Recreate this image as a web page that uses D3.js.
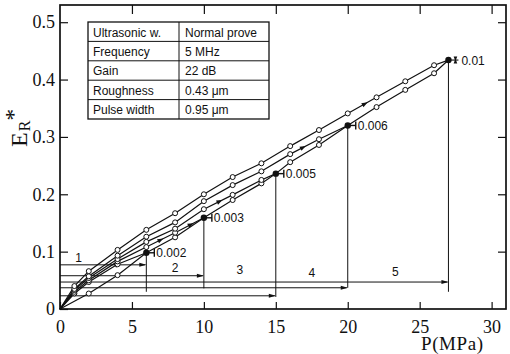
<!DOCTYPE html>
<html>
<head>
<meta charset="utf-8">
<script src="https://cdn.jsdelivr.net/npm/d3@7"></script>
<style>
  html, body { margin: 0; padding: 0; background: #fff; }
  svg { display: block; }
</style>
</head>
<body>
<svg id="chart" width="510" height="354"></svg>
<script>
// Virgin loading path: each cycle pushes past the previous maximum pressure
const envelopeP = [0, 2, 4, 6, 8, 10, 12, 14, 15, 16, 18, 20, 22, 24, 26, 27];
const envelopeE = [0, 0.027, 0.059, 0.098, 0.125, 0.159, 0.190, 0.219, 0.236, 0.256, 0.286, 0.320, 0.352, 0.382, 0.411, 0.434];

// Unloading paths from each peak pressure back to zero (reloading retraces them)
const unload1P = [6, 4, 2, 1, 0];
const unload1E = [0.098, 0.078, 0.047, 0.027, 0];
const unload2P = [10, 8, 6, 4, 2, 1, 0];
const unload2E = [0.159, 0.133, 0.108, 0.083, 0.050, 0.030, 0];
const unload3P = [15, 14, 12, 10, 8, 6, 4, 2, 1, 0];
const unload3E = [0.236, 0.225, 0.199, 0.174, 0.140, 0.117, 0.087, 0.054, 0.033, 0];
const unload4P = [20, 18, 16, 14, 12, 10, 8, 6, 4, 2, 1, 0];
const unload4E = [0.320, 0.296, 0.270, 0.240, 0.216, 0.188, 0.151, 0.126, 0.093, 0.057, 0.035, 0];
const unload5P = [27, 26, 24, 22, 20, 18, 16, 14, 12, 10, 8, 6, 4, 2, 1, 0];
const unload5E = [0.434, 0.425, 0.397, 0.369, 0.341, 0.312, 0.284, 0.254, 0.230, 0.200, 0.167, 0.138, 0.103, 0.066, 0.040, 0];

// Peak of each cycle and its residual value
const peakP = [6, 10, 15, 20, 27];
const peakE = [0.098, 0.159, 0.236, 0.320, 0.434];
const peakLabels = ["0.002", "0.003", "0.005", "0.006", "0.01"];

// Cycle arrows along the bottom (pressure range of each cycle)
const cycleNames = ["1", "2", "3", "4", "5"];
const cycleArrowE = [0.077, 0.058, 0.023, 0.037, 0.047];
const leaderEndE = [0.030, 0.036, 0.021, 0.037, 0.030];
const cycleLabelP = [1.3, 8.0, 12.5, 17.5, 23.3];
const cycleLabelE = [0.082, 0.064, 0.061, 0.056, 0.057];

// Direction arrows placed on curves: [curve, pressure]
const curveArrows = [["u5", 21.2], ["u4", 16.9], ["u3", 11.1], ["u2", 9.1], ["u2", 7.0], ["u1", 4.0]];

const xTicks = [0, 5, 10, 15, 20, 25, 30];
const yTicks = [0, 0.1, 0.2, 0.3, 0.4, 0.5];

const tableRows = [
  ["Ultrasonic w.", "Normal prove"],
  ["Frequency", "5 MHz"],
  ["Gain", "22 dB"],
  ["Roughness", "0.43 \u03bcm"],
  ["Pulse width", "0.95 \u03bcm"]
];

// ---------------------------------------------------------------
const svg = d3.select("#chart");
const ink = "#111";
const plotL = 60, plotR = 506, plotT = 5, plotB = 309;

const x = d3.scaleLinear().domain([0, 31]).range([plotL, plotR]);
const y = d3.scaleLinear().domain([0, 0.53]).range([plotB, plotT]);

const zip = (ps, es) => ps.map((p, i) => [p, es[i]]);
const curves = {
  env: zip(envelopeP, envelopeE),
  u1: zip(unload1P, unload1E),
  u2: zip(unload2P, unload2E),
  u3: zip(unload3P, unload3E),
  u4: zip(unload4P, unload4E),
  u5: zip(unload5P, unload5E)
};

const serif = "'Liberation Serif', 'Times New Roman', serif";
const sansW = "'Liberation Sans', Arial, sans-serif";

// Axes: ticks point inward on all four sides
const gx = svg.append("g").attr("transform", `translate(0,${plotB})`)
  .call(d3.axisBottom(x).tickValues(xTicks).tickSize(-7).tickSizeOuter(0).tickPadding(11));
const gy = svg.append("g").attr("transform", `translate(${plotL},0)`)
  .call(d3.axisLeft(y).tickValues(yTicks).tickSize(-8).tickSizeOuter(0).tickPadding(5)
    .tickFormat(d => d === 0 ? "0" : d3.format(".1f")(d)));
const gt = svg.append("g").attr("transform", `translate(0,${plotT})`)
  .call(d3.axisTop(x).tickValues(xTicks.slice(1)).tickSize(-9).tickSizeOuter(0).tickFormat(""));
const gr = svg.append("g").attr("transform", `translate(${plotR},0)`)
  .call(d3.axisRight(y).tickValues(yTicks.slice(1)).tickSize(-8).tickSizeOuter(0).tickFormat(""));

[gx, gy, gt, gr].forEach(g => {
  g.select(".domain").remove();
  g.selectAll(".tick line").attr("stroke", ink).attr("stroke-width", 1.2);
  g.selectAll(".tick text").attr("fill", ink).attr("font-family", serif).attr("font-size", 18);
});

svg.append("rect")
  .attr("x", plotL).attr("y", plotT).attr("width", plotR - plotL).attr("height", plotB - plotT)
  .attr("fill", "none").attr("stroke", ink).attr("stroke-width", 1.7);

// Axis titles
svg.append("text")
  .attr("x", 421).attr("y", 350)
  .attr("font-family", serif).attr("font-size", 19).attr("fill", ink)
  .attr("letter-spacing", 0.6)
  .text("P(MPa)");

const yl = svg.append("text")
  .attr("transform", "translate(27,147) rotate(-90)")
  .attr("font-family", serif).attr("fill", ink);
yl.append("tspan").attr("font-size", 24).text("E");
yl.append("tspan").attr("font-size", 16).attr("dx", 1).attr("dy", 3).text("R");
yl.append("tspan").attr("font-size", 24).attr("dx", 0).attr("dy", -9).text("*");

// Parameter table
const tx0 = 88, tx1 = 179, tx2 = 269, ty0 = 22, rowH = 19.4;
const table = svg.append("g").attr("stroke", ink).attr("stroke-width", 1);
table.append("rect").attr("x", tx0).attr("y", ty0)
  .attr("width", tx2 - tx0).attr("height", rowH * tableRows.length)
  .attr("fill", "#fff").attr("stroke-width", 1.3);
table.append("line").attr("x1", tx1).attr("x2", tx1).attr("y1", ty0).attr("y2", ty0 + rowH * tableRows.length);
table.selectAll("line.row").data(tableRows.slice(1)).join("line")
  .attr("class", "row")
  .attr("x1", tx0).attr("x2", tx2)
  .attr("y1", (d, i) => ty0 + rowH * (i + 1)).attr("y2", (d, i) => ty0 + rowH * (i + 1));
const cells = svg.append("g").attr("font-family", sansW).attr("font-size", 12).attr("fill", ink);
tableRows.forEach((r, i) => {
  cells.append("text").attr("x", tx0 + 5).attr("y", ty0 + rowH * i + 14.5).text(r[0]);
  cells.append("text").attr("x", tx1 + 6).attr("y", ty0 + rowH * i + 14.5).text(r[1]);
});

// Cycle range arrows and leaders from each peak
const arrowHead = (g, px, py, ang, len = 6, half = 2.3) => {
  const c = Math.cos(ang), s = Math.sin(ang);
  const bx = px - len * c, by = py - len * s;
  g.append("path")
    .attr("d", `M${px},${py}L${bx - half * s},${by + half * c}L${bx + half * s},${by - half * c}Z`)
    .attr("fill", ink);
};

const cyc = svg.append("g");
peakP.forEach((p, i) => {
  cyc.append("line")
    .attr("x1", x(0)).attr("x2", x(p) - 1)
    .attr("y1", y(cycleArrowE[i])).attr("y2", y(cycleArrowE[i]))
    .attr("stroke", ink).attr("stroke-width", 1);
  arrowHead(cyc, x(p), y(cycleArrowE[i]), 0, 7, 2);
  cyc.append("line")
    .attr("x1", x(p)).attr("x2", x(p))
    .attr("y1", y(peakE[i])).attr("y2", y(leaderEndE[i]))
    .attr("stroke", ink).attr("stroke-width", 1);
  cyc.append("text")
    .attr("x", x(cycleLabelP[i])).attr("y", y(cycleLabelE[i]))
    .attr("text-anchor", "middle")
    .attr("font-family", sansW).attr("font-size", 12).attr("fill", ink)
    .text(cycleNames[i]);
});

// Curves
const line = d3.line().x(d => x(d[0])).y(d => y(d[1]));
const curveG = svg.append("g");
Object.values(curves).forEach(c => {
  curveG.append("path").attr("d", line(c))
    .attr("fill", "none").attr("stroke", ink).attr("stroke-width", 1.2);
});

// Direction arrows on curves
const interp = (c, p) => {
  const s = c.slice().sort((a, b) => a[0] - b[0]);
  for (let k = 0; k < s.length - 1; k++) {
    if (p >= s[k][0] && p <= s[k + 1][0]) {
      const t = (p - s[k][0]) / (s[k + 1][0] - s[k][0]);
      const px = x(p), py = y(s[k][1] + t * (s[k + 1][1] - s[k][1]));
      const ang = Math.atan2(y(s[k + 1][1]) - y(s[k][1]), x(s[k + 1][0]) - x(s[k][0]));
      return [px, py, ang];
    }
  }
  return null;
};
curveArrows.forEach(([name, p]) => {
  const r = interp(curves[name], p);
  if (r) arrowHead(curveG, r[0] + 3 * Math.cos(r[2]), r[1] + 3 * Math.sin(r[2]), r[2], 6, 2.3);
});

// Open circle markers at measured points
const isPeak = (p, e) => peakP.some((pp, i) => pp === p && Math.abs(peakE[i] - e) < 1e-9);
const pts = [];
Object.values(curves).forEach(c => c.forEach(d => {
  if (d[0] > 0 && !isPeak(d[0], d[1])) pts.push(d);
}));
svg.append("g").selectAll("circle").data(pts).join("circle")
  .attr("cx", d => x(d[0])).attr("cy", d => y(d[1])).attr("r", 2.5)
  .attr("fill", "#fff").attr("stroke", ink).attr("stroke-width", 1);

// Peaks with residual markers
const pk = svg.append("g");
peakP.forEach((p, i) => {
  const px = x(p), py = y(peakE[i]);
  pk.append("circle").attr("cx", px).attr("cy", py).attr("r", 3.2).attr("fill", ink);
  if (i < peakP.length - 1) {
    pk.append("line").attr("x1", px).attr("x2", px + 8).attr("y1", py).attr("y2", py)
      .attr("stroke", ink).attr("stroke-width", 1.4);
    pk.append("line").attr("x1", px + 8).attr("x2", px + 8).attr("y1", py - 4).attr("y2", py + 4)
      .attr("stroke", ink).attr("stroke-width", 1.4);
  } else {
    pk.append("line").attr("x1", px).attr("x2", px + 10).attr("y1", py).attr("y2", py)
      .attr("stroke", ink).attr("stroke-width", 1.1);
    arrowHead(pk, px + 7, py - 1.5, -Math.PI / 2, 5, 1.8);
    arrowHead(pk, px + 7, py + 1.5, Math.PI / 2, 5, 1.8);
  }
  pk.append("text")
    .attr("x", px + (i < peakP.length - 1 ? 10 : 13)).attr("y", py + 4.5)
    .attr("font-family", sansW).attr("font-size", 12).attr("fill", ink)
    .text(peakLabels[i]);
});
</script>
</body>
</html>
